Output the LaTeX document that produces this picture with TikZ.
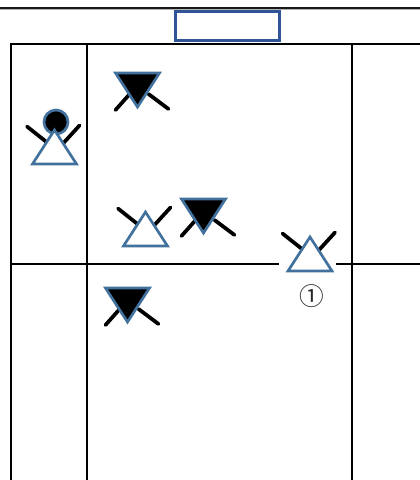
\documentclass[tikz,border=0pt]{standalone}
\usepackage{fontspec}
\newfontfamily\cjkf{Noto Sans CJK JP}
\definecolor{symblue}{HTML}{41719C}
\definecolor{boxblue}{HTML}{2F5597}
\tikzset{
  gridline/.style={line width=2pt,black},
  armline/.style={line width=2.8pt,black,line cap=round},
  tri/.style={line width=2pt,symblue,line join=miter},
  upsym/.pic={
    \draw[armline] (-27.5,-3.5) -- (-8,12);
    \draw[armline] (25,-4.5) -- (9,13);
    \draw[tri,fill=white] (0,0) -- (22,34) -- (-22,34) -- cycle;
  },
  downsym/.pic={
    \draw[armline] (-22,38) -- (-6,20);
    \draw[armline] (11,22) -- (31,37);
    \draw[tri,fill=black] (0,35) -- (22,1) -- (-22,1) -- cycle;
  }
}
\begin{document}
\begin{tikzpicture}[x=0.75pt,y=-0.75pt]
\useasboundingbox (0,0) rectangle (420,480);
% top rule
\draw[line width=1pt,gray!60] (0,9.5) -- (420,9.5);
\draw[line width=1.3pt,black!90] (0,8) -- (420,8);
% empty box
\node[draw=boxblue,line width=2.4pt,minimum width=78pt,minimum height=22pt,inner sep=0pt,fill=white] (titlebox) at (227.5,26) {};
% table
\draw[gridline] (11,480) -- (11,44) -- (420,44);
\draw[gridline] (87,44) -- (87,480);
\draw[gridline] (352,44) -- (352,480);
\draw[gridline] (11,264) -- (279,264);
\draw[gridline] (336,264) -- (420,264);
% symbols
\draw[line width=2pt,symblue,fill=black] (56,122) circle (12);
\pic at (54.5,130) {upsym};
\pic at (145.5,212) {upsym};
\pic at (310,237) {upsym};
\pic at (137.5,72) {downsym};
\pic at (203.5,198) {downsym};
\pic at (127.5,287) {downsym};
\node[font=\cjkf\fontsize{18.5pt}{20pt}\selectfont,inner sep=0pt,text=black!85] (mark) at (311.5,296) {①};
\end{tikzpicture}
\end{document}
